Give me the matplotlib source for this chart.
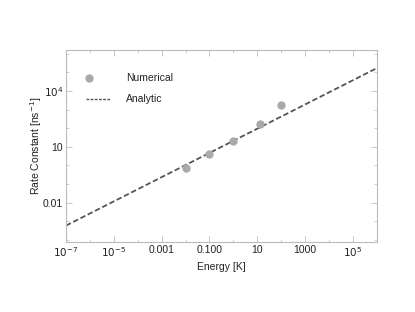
import numpy as np
import matplotlib.pyplot as plt

plt.rcParams['font.family'] = ['Liberation Sans', 'DejaVu Sans']

# numerical rate constants
energy_pts = [0.01, 0.1, 1.0, 13.0, 100.0]
rate_pts = [0.76, 4.3, 21.6, 170.0, 1700.0]

# analytic line: k = A * E^p
A = 21.0
p = 0.65
energy_line = [1e-7, 2e6]

x_ticks = [1e-7, 1e-5, 1e-3, 1e-1, 1e1, 1e3, 1e5]
x_labels = ['$10^{-7}$', '$10^{-5}$', '0.001', '0.100', '10', '1000', '$10^{5}$']
y_ticks = [1e-2, 1e1, 1e4]
y_labels = ['0.01', '10', '$10^{4}$']

pt_color = '#aaaaaa'
ln_color = '#555555'
txt_color = '#222222'

fig = plt.figure(figsize=(4.15, 3.12), dpi=100)
ax = fig.add_axes([0.159, 0.223, 0.749, 0.617])

el = np.array(energy_line)
ax.plot(el, A * el ** p, color=ln_color, lw=1.3, ls=(0, (3, 1.5)))
ax.plot(energy_pts, rate_pts, 'o', color=pt_color, ms=6, mec='none')

ax.set_xscale('log')
ax.set_yscale('log')
ax.set_xlim(1e-7, 1e6)
ax.set_ylim(10 ** -4.13, 10 ** 6.2)

ax.set_xticks(x_ticks)
ax.set_xticklabels(x_labels)
ax.set_yticks(y_ticks)
ax.set_yticklabels(y_labels)
ax.set_xticks([10.0 ** k for k in range(-7, 7)], minor=True)
ax.set_yticks([10.0 ** k for k in range(-4, 7)], minor=True)
ax.xaxis.set_minor_formatter(plt.NullFormatter())
ax.yaxis.set_minor_formatter(plt.NullFormatter())

ax.tick_params(which='both', direction='in', top=True, right=True,
               color='#bbbbbb', labelsize=7.5, labelcolor=txt_color, pad=2)
ax.tick_params(which='major', length=4, width=0.6)
ax.tick_params(which='minor', length=2.5, width=0.5)
for s in ax.spines.values():
    s.set_color('#bbbbbb')
    s.set_linewidth(0.8)

ax.set_xlabel('Energy [K]', fontsize=7.5, color=txt_color, labelpad=2)
ax.set_ylabel('Rate Constant [ns$^{-1}$]', fontsize=7.5, color=txt_color, labelpad=-1)

# legend, drawn by hand in axes coordinates
ax.plot([0.074], [0.853], 'o', color=pt_color, ms=6, mec='none',
        transform=ax.transAxes)
ax.plot([0.064, 0.141], [0.747, 0.747], color=ln_color, lw=1.0,
        ls=(0, (2, 1)), transform=ax.transAxes)
ax.text(0.193, 0.853, 'Numerical', transform=ax.transAxes, fontsize=7.5,
        color=txt_color, va='center')
ax.text(0.193, 0.747, 'Analytic', transform=ax.transAxes, fontsize=7.5,
        color=txt_color, va='center')

fig.savefig('out.png', dpi=100)
